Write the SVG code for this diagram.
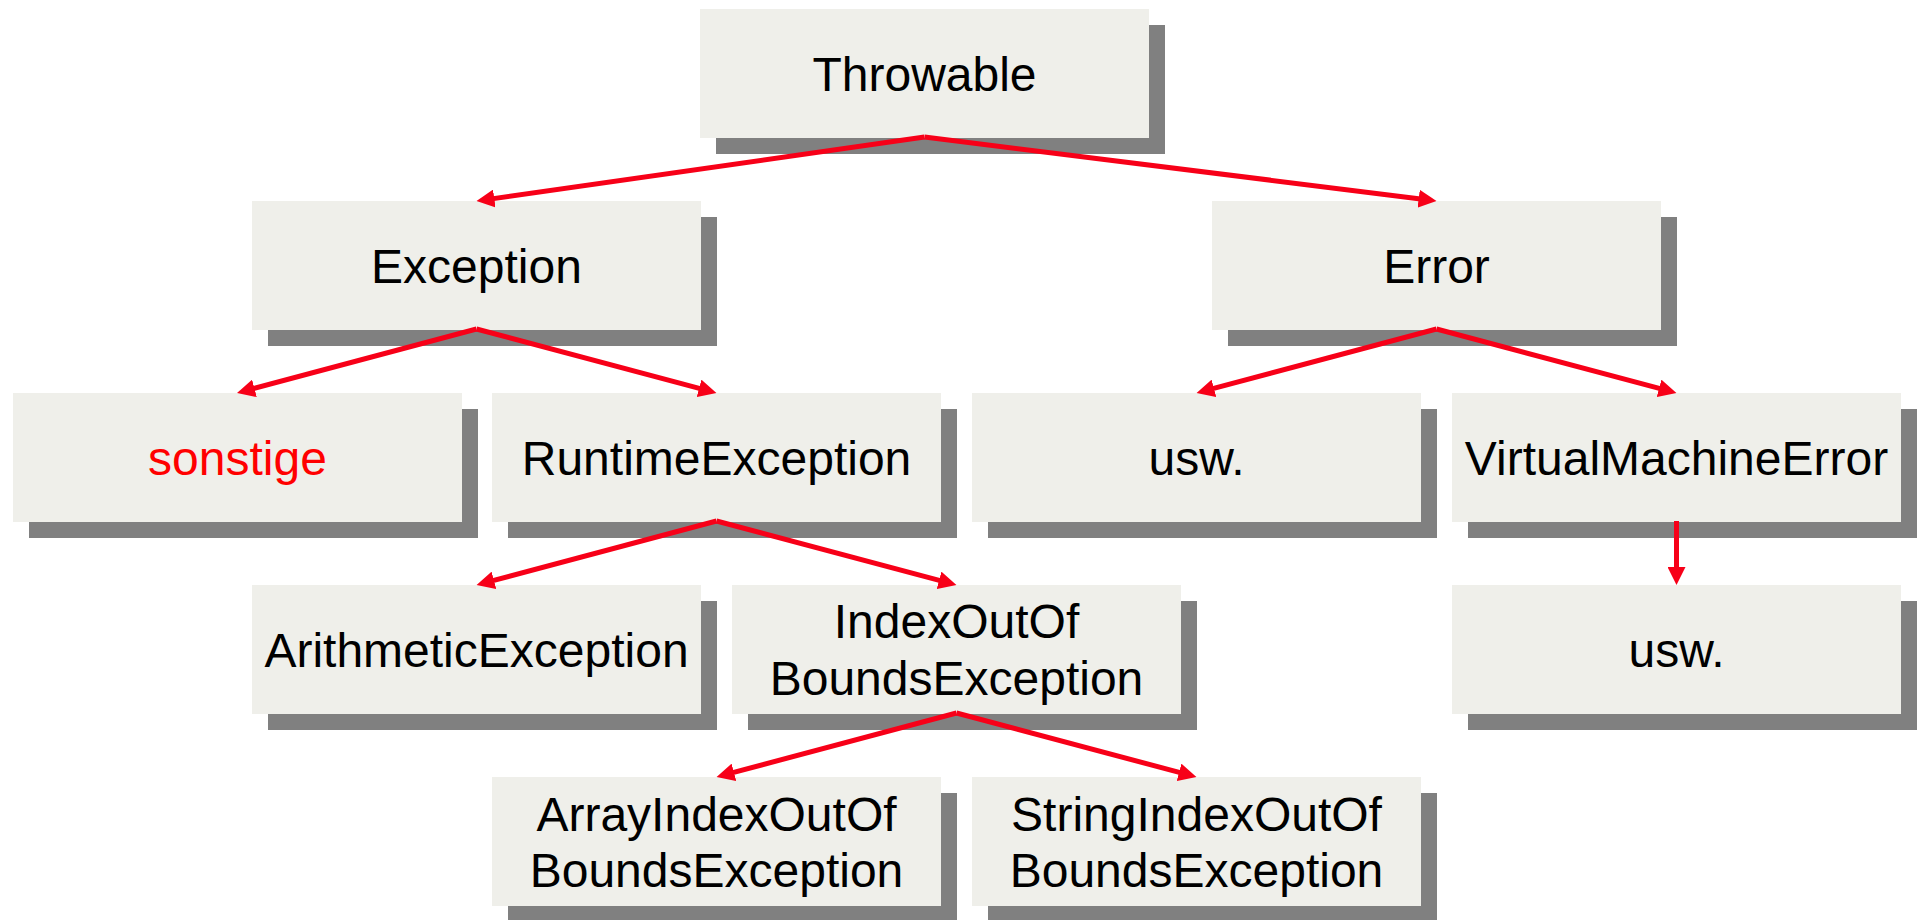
<svg xmlns="http://www.w3.org/2000/svg" width="1921" height="920" viewBox="0 0 1921 920">
<style>
.sh{fill:#808080}
.bx{fill:#efefea}
.t{font-family:"Liberation Sans",Arial,sans-serif;font-size:48px;fill:#000;text-anchor:middle}
.red{fill:#ff0000}
.c{stroke:#f70018;stroke-width:5;fill:none}
</style>
<defs>
<marker id="ah" markerUnits="userSpaceOnUse" markerWidth="18" markerHeight="18" refX="8" refY="9" orient="auto">
<path d="M0,0 L18,9 L0,18 z" fill="#f70018"/>
</marker>
</defs>
<rect width="1921" height="920" fill="#fff"/>
<g id="throwable"><rect class="sh" x="716" y="25" width="449" height="129"/><rect class="bx" x="700" y="9" width="449" height="129"/><text class="t" x="924.5" y="91">Throwable</text></g>
<g id="exception"><rect class="sh" x="268" y="217" width="449" height="129"/><rect class="bx" x="252" y="201" width="449" height="129"/><text class="t" x="476.5" y="283">Exception</text></g>
<g id="error"><rect class="sh" x="1228" y="217" width="449" height="129"/><rect class="bx" x="1212" y="201" width="449" height="129"/><text class="t" x="1436.5" y="283">Error</text></g>
<g id="sonstige"><rect class="sh" x="29" y="409" width="449" height="129"/><rect class="bx" x="13" y="393" width="449" height="129"/><text class="t red" x="237.5" y="475">sonstige</text></g>
<g id="runtimeexception"><rect class="sh" x="508" y="409" width="449" height="129"/><rect class="bx" x="492" y="393" width="449" height="129"/><text class="t" x="716.5" y="475">RuntimeException</text></g>
<g id="usw1"><rect class="sh" x="988" y="409" width="449" height="129"/><rect class="bx" x="972" y="393" width="449" height="129"/><text class="t" x="1196.5" y="475">usw.</text></g>
<g id="virtualmachineerror"><rect class="sh" x="1468" y="409" width="449" height="129"/><rect class="bx" x="1452" y="393" width="449" height="129"/><text class="t" x="1676.5" y="475">VirtualMachineError</text></g>
<g id="arithmeticexception"><rect class="sh" x="268" y="601" width="449" height="129"/><rect class="bx" x="252" y="585" width="449" height="129"/><text class="t" x="476.5" y="667">ArithmeticException</text></g>
<g id="indexoutofbounds"><rect class="sh" x="748" y="601" width="449" height="129"/><rect class="bx" x="732" y="585" width="449" height="129"/><text class="t" x="956.5" y="638">IndexOutOf</text><text class="t" x="956.5" y="695">BoundsException</text></g>
<g id="usw2"><rect class="sh" x="1468" y="601" width="449" height="129"/><rect class="bx" x="1452" y="585" width="449" height="129"/><text class="t" x="1676.5" y="667">usw.</text></g>
<g id="arrayindexoutofbounds"><rect class="sh" x="508" y="793" width="449" height="129"/><rect class="bx" x="492" y="777" width="449" height="129"/><text class="t" x="716.5" y="831">ArrayIndexOutOf</text><text class="t" x="716.5" y="887">BoundsException</text></g>
<g id="stringindexoutofbounds"><rect class="sh" x="988" y="793" width="449" height="129"/><rect class="bx" x="972" y="777" width="449" height="129"/><text class="t" x="1196.5" y="831">StringIndexOutOf</text><text class="t" x="1196.5" y="887">BoundsException</text></g>
<g id="connectors">
<line class="c" marker-end="url(#ah)" x1="924.5" y1="137" x2="486.4" y2="199.6"/>
<line class="c" marker-end="url(#ah)" x1="924.5" y1="137" x2="1426.6" y2="199.7"/>
<line class="c" marker-end="url(#ah)" x1="476.5" y1="329" x2="246.7" y2="390.4"/>
<line class="c" marker-end="url(#ah)" x1="476.5" y1="329" x2="706.8" y2="390.4"/>
<line class="c" marker-end="url(#ah)" x1="1436.5" y1="329" x2="1206.2" y2="390.4"/>
<line class="c" marker-end="url(#ah)" x1="1436.5" y1="329" x2="1666.8" y2="390.4"/>
<line class="c" marker-end="url(#ah)" x1="716.5" y1="521" x2="486.2" y2="582.4"/>
<line class="c" marker-end="url(#ah)" x1="716.5" y1="521" x2="946.8" y2="582.4"/>
<line class="c" marker-end="url(#ah)" x1="956.5" y1="713" x2="726.2" y2="774.4"/>
<line class="c" marker-end="url(#ah)" x1="956.5" y1="713" x2="1186.8" y2="774.4"/>
<line class="c" marker-end="url(#ah)" x1="1676.5" y1="521" x2="1676.5" y2="575"/>
</g>
</svg>
